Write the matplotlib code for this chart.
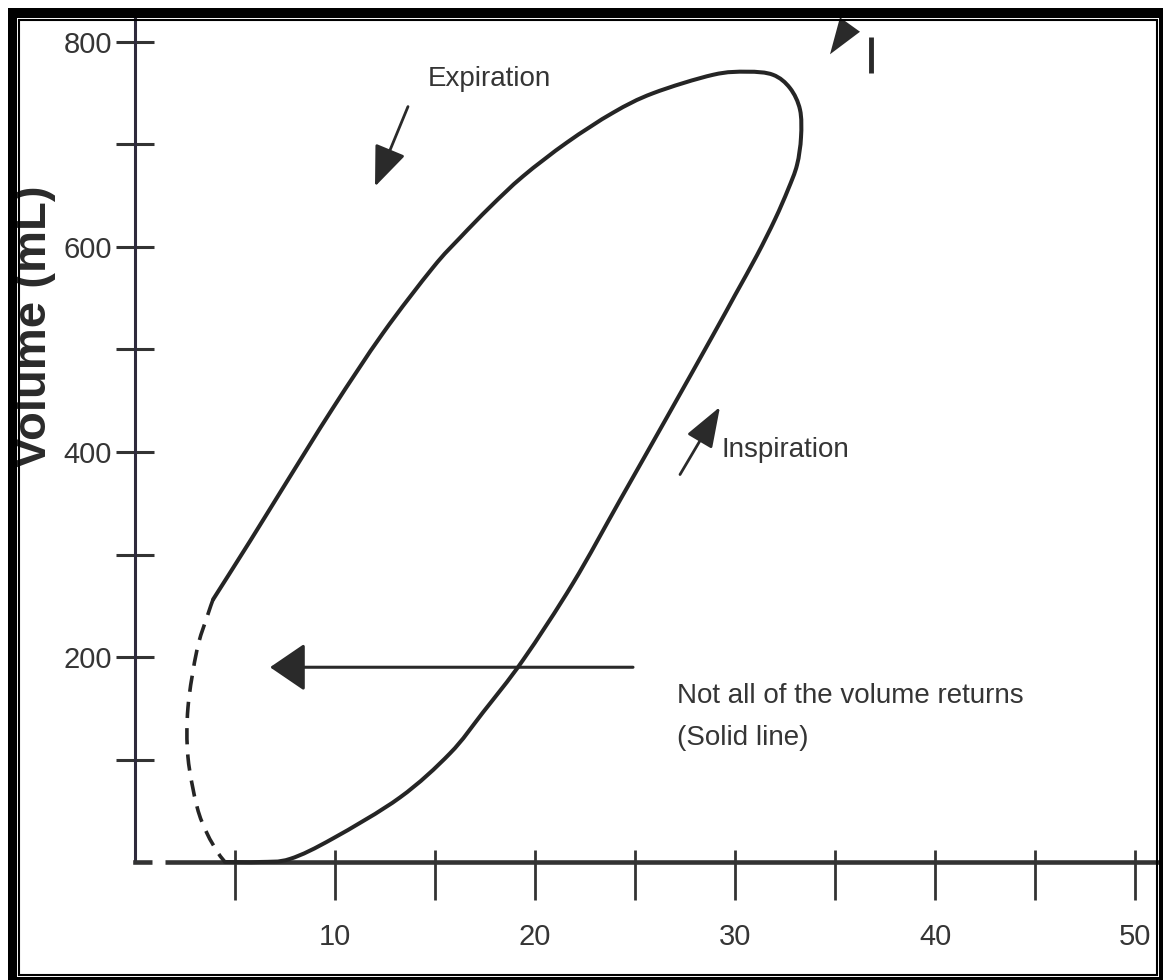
import matplotlib
matplotlib.use("Agg")
import matplotlib.pyplot as plt
from matplotlib import font_manager
from matplotlib.patches import Rectangle, Polygon, PathPatch
from matplotlib.path import Path

# ---------------- data ----------------
# Inspiration limb (pressure cm H2O, volume mL), bottom -> top
insp_pressure = [4.5, 6.25, 7.75, 9.9, 13.25, 15.75, 17.4, 19.4, 21.9, 24.25, 26.6,
                 28.9, 30.0, 31.1, 32.0, 32.65, 33.1, 33.3, 33.25, 32.75, 31.9, 30.6]
insp_volume = [0, 0, 3, 23, 63, 106, 146, 197, 272, 353, 434,
               514, 553, 592, 627, 656, 680, 707, 734, 755, 768, 771]
# Expiration limb, top -> bottom (solid part)
exp_pressure = [30.6, 28.9, 25.9, 23.9, 21.6, 19.4, 17.75, 16.25, 14.9, 12.4, 9.9,
                7.4, 5.75, 3.9]
exp_volume = [771, 768, 750, 731, 702, 669, 639, 609, 580, 516, 443,
              365, 313, 256]
# Dashed return (volume that does not come back)
ret_pressure = [3.9, 3.6, 3.1, 2.65, 2.65, 3.1, 3.6, 4.15, 4.5]
ret_volume = [256, 239, 207, 151, 102, 54, 28, 9, 0]

x_ticks = [5, 10, 15, 20, 25, 30, 35, 40, 45, 50]
x_tick_labels = ["", "10", "", "20", "", "30", "", "40", "", "50"]
y_ticks = [100, 200, 300, 400, 500, 600, 700, 800]
y_tick_labels = ["", "200", "", "400", "", "600", "", "800"]

# ---------------- fonts ----------------
names = {f.name for f in font_manager.fontManager.ttflist}
TFONT = "Liberation Sans" if "Liberation Sans" in names else "DejaVu Sans"
TSIZE, LSIZE = 20, 21

W, H = 1163, 980
fig = plt.figure(figsize=(W / 100, H / 100), dpi=100)
fig.patch.set_facecolor("white")

# axes placement (pixel geometry of the scan)
x0_px, y0_px = 135, 862
px_per_x, px_per_y = 20.0, 1.025
xmax, ymax = 51.1, 822
ax = fig.add_axes([x0_px / W, (H - y0_px) / H, xmax * px_per_x / W, ymax * px_per_y / H])
ax.set_xlim(0, xmax)
ax.set_ylim(0, ymax)
ax.set_facecolor("none")

TXT = "#353535"
LINE = "#252525"

for s in ["top", "right"]:
    ax.spines[s].set_visible(False)
ax.spines["left"].set_linewidth(2.2)
ax.spines["left"].set_color("#2e2a3c")
ax.spines["bottom"].set_linewidth(3.3)
ax.spines["bottom"].set_color("#333333")
ax.spines["left"].set_zorder(2)
ax.spines["bottom"].set_zorder(2)

ax.set_xticks(x_ticks)
ax.set_xticklabels(x_tick_labels, fontfamily=TFONT, fontsize=LSIZE, color=TXT)
ax.set_yticks(y_ticks)
ax.set_yticklabels(y_tick_labels, fontfamily=TFONT, fontsize=LSIZE, color=TXT)
ax.tick_params(axis="x", direction="out", length=27, width=2.0, color="#333333", pad=17)
ax.tick_params(axis="y", direction="inout", length=27, width=2.2, color="#333333", pad=3)
ax.set_xticks(x_ticks, minor=True)
ax.xaxis.remove_overlapping_locs = False
ax.tick_params(axis="x", which="minor", direction="in", length=9, width=2.0, color="#333333")

# small gap in x axis near the origin
ax.plot([0.85, 1.5], [0, 0], color="white", lw=5, solid_capstyle="butt", zorder=3, clip_on=False)


def smooth_path(xs, ys):
    """Catmull-Rom through the read points, drawn as cubic Bezier segments."""
    pts = list(zip(xs, ys))
    n = len(pts)
    verts = [pts[0]]
    codes = [Path.MOVETO]
    for i in range(n - 1):
        p0 = pts[i - 1] if i > 0 else pts[i]
        p1 = pts[i]
        p2 = pts[i + 1]
        p3 = pts[i + 2] if i + 2 < n else pts[i + 1]
        c1 = (p1[0] + (p2[0] - p0[0]) / 6, p1[1] + (p2[1] - p0[1]) / 6)
        c2 = (p2[0] - (p3[0] - p1[0]) / 6, p2[1] - (p3[1] - p1[1]) / 6)
        verts += [c1, c2, p2]
        codes += [Path.CURVE4] * 3
    return Path(verts, codes)


loop_p = insp_pressure + exp_pressure[1:]
loop_v = insp_volume + exp_volume[1:]
ax.add_patch(PathPatch(smooth_path(loop_p, loop_v), facecolor="none", edgecolor=LINE,
                       lw=2.9, capstyle="round", joinstyle="round", zorder=4, clip_on=False))
ax.add_patch(PathPatch(smooth_path(ret_pressure, ret_volume), facecolor="none",
                       edgecolor=LINE, lw=2.6, linestyle=(0, (4.5, 2.8)), zorder=4,
                       clip_on=False))

# annotations
ax.text(14.65, 757, "Expiration", fontfamily=TFONT, fontsize=TSIZE, color=TXT,
        ha="left", va="baseline")
ax.annotate("", xy=(12.0, 659), xytext=(13.65, 737),
            arrowprops=dict(arrowstyle="-|>,head_length=25,head_width=10", mutation_scale=1,
                            lw=2.0, color="#2a2a2a", shrinkA=0, shrinkB=0))
ax.text(29.35, 395, "Inspiration", fontfamily=TFONT, fontsize=TSIZE, color=TXT,
        ha="left", va="baseline")
ax.annotate("", xy=(29.25, 444), xytext=(27.25, 378),
            arrowprops=dict(arrowstyle="-|>,head_length=25,head_width=9", mutation_scale=1,
                            lw=2.0, color="#2a2a2a", shrinkA=0, shrinkB=0))
ax.annotate("", xy=(6.75, 190), xytext=(24.9, 190),
            arrowprops=dict(arrowstyle="-|>,head_length=22,head_width=15", mutation_scale=1,
                            lw=2.2, color="#2a2a2a", shrinkA=0, shrinkB=0))
ax.text(27.1, 155, "Not all of the volume returns", fontfamily=TFONT, fontsize=TSIZE,
        color=TXT, ha="left", va="baseline")
ax.text(27.1, 114, "(Solid line)", fontfamily=TFONT, fontsize=TSIZE, color=TXT,
        ha="left", va="baseline")

# fragment at the top edge (cut-off arrow head and bar)
ax.add_patch(Polygon([(34.75, 788), (35.25, 824), (36.25, 810)], closed=True,
                     facecolor="#2a2a2a", edgecolor="none", clip_on=False, zorder=4))
ax.plot([36.8, 36.8], [770, 805], color="#2a2a2a", lw=3.5, solid_capstyle="butt",
        clip_on=False, zorder=4)

# y label
fig.text(34 / W, 1 - 327 / H, "Volume (mL)", rotation=90, fontfamily=TFONT,
         fontweight="bold", fontsize=34, color="#2a2a2a", ha="center", va="center")

# double frame around the picture
def fr(x, y, w, h, **kw):
    return Rectangle((x / W, 1 - (y + h) / H), w / W, h / H, transform=fig.transFigure,
                     **kw)

blk = dict(facecolor="black", edgecolor="none", zorder=20)
fig.patches.extend([
    fr(8, 8, W - 8, 10, **blk),           # top
    fr(8, 8, 9, H - 8, **blk),            # left
    fr(1159, 8, W - 1159, H - 8, **blk),  # right
    fr(8, 977, W - 8, H - 977, **blk),    # bottom
    fr(19, 20, 1157 - 19, 975 - 20, facecolor="none", edgecolor="black", lw=1.5, zorder=20),
])

fig.savefig("out.png", dpi=100, facecolor="white")
